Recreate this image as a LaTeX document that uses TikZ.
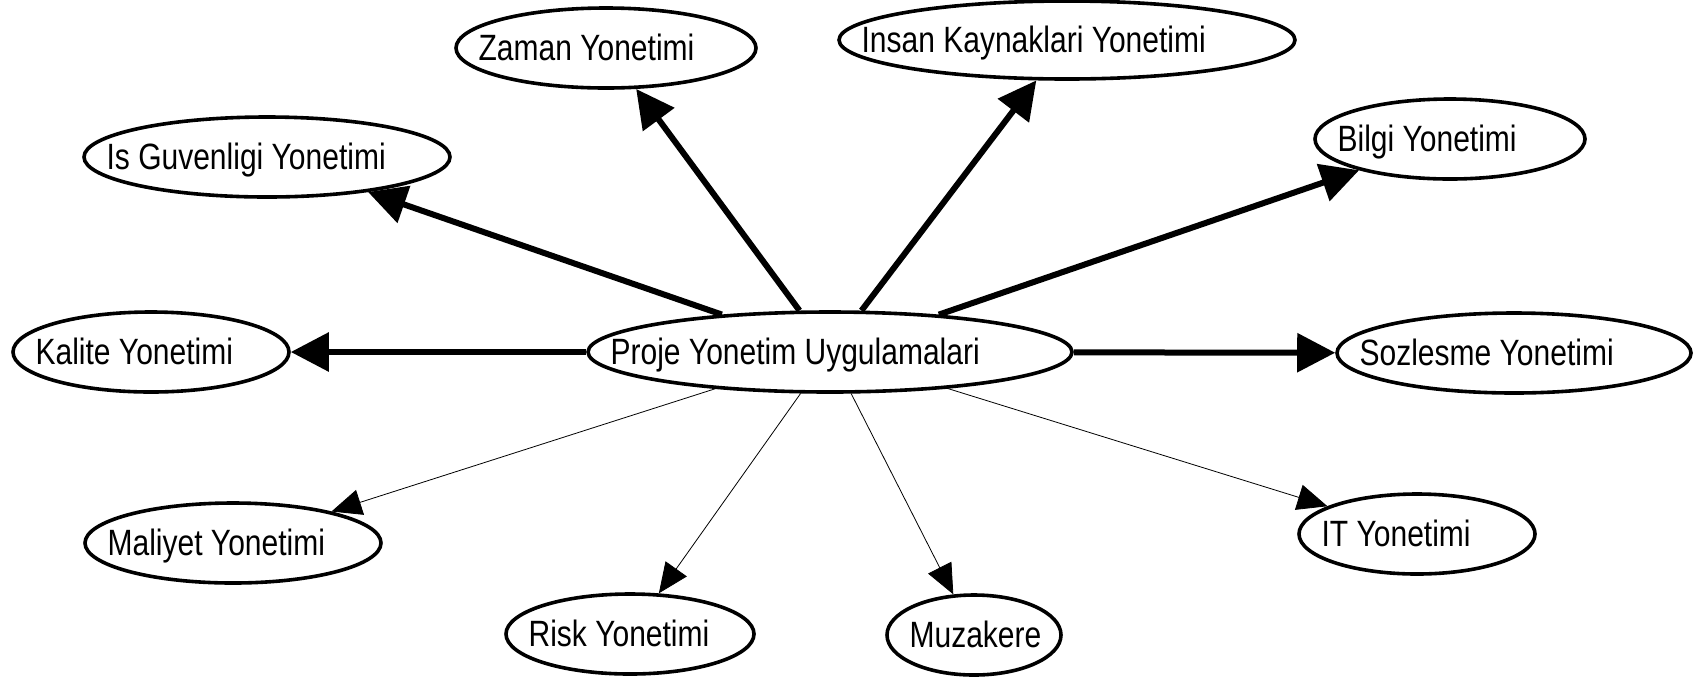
\documentclass[tikz,border=0pt]{standalone}
\usepackage{fontspec}
\setmainfont{Liberation Sans}[FakeStretch=0.82]
\usetikzlibrary{shapes.geometric, arrows.meta}

\begin{document}
\begin{tikzpicture}[
    x=0.5pt, y=-0.5pt,
    topic/.style={ellipse, draw, line width=1.8pt, minimum height=40pt,
        label={[title]west:#1}},
    title/.style={anchor=base west, inner sep=0pt, xshift=12pt, yshift=-6pt,
        font=\fontsize{18.3pt}{21pt}\selectfont},
    strong/.style={line width=3pt, -{Triangle[length=19pt, width=19pt]}},
    weak/.style={line width=0.4pt, -{Triangle[length=15pt, width=13pt]}}
]
\useasboundingbox (0,0) rectangle (1697,687);

% Central node
\node (prog) at (830,352) [topic=Proje Yonetim Uygulamalari, minimum width=242pt] {};

% Upper topics
\node (isguv) at (267,157) [topic=Is Guvenligi Yonetimi, minimum width=183pt] {};
\node (zaman) at (606,48) [topic=Zaman Yonetimi, minimum width=150pt] {};
\node (insan) at (1067,40) [topic=Insan Kaynaklari Yonetimi, minimum width=228pt, minimum height=39pt] {};
\node (bilgi) at (1450,139) [topic=Bilgi Yonetimi, minimum width=135pt] {};

% Side topics
\node (kalite) at (151,352) [topic=Kalite Yonetimi, minimum width=138pt] {};
\node (sozlesme) at (1514,353) [topic=Sozlesme Yonetimi, minimum width=177pt] {};

% Lower topics
\node (maliyet) at (233,543) [topic=Maliyet Yonetimi, minimum width=148pt] {};
\node (risk) at (630,634) [topic=Risk Yonetimi, minimum width=124pt] {};
\node (muzakere) at (974,635) [topic=Muzakere, minimum width=87pt] {};
\node (it) at (1417,534) [topic=IT Yonetimi, minimum width=118pt] {};

% Connections
\draw [strong] (prog) -- (isguv);
\draw [strong] (prog) -- (zaman);
\draw [strong] (prog) -- (insan);
\draw [strong] (prog) -- (bilgi);
\draw [strong] (prog) -- (kalite);
\draw [strong] (prog) -- (sozlesme);
\draw [weak] (prog) -- (maliyet);
\draw [weak] (prog) -- (risk);
\draw [weak] (prog) -- (muzakere);
\draw [weak] (prog) -- (it);

\end{tikzpicture}
\end{document}
